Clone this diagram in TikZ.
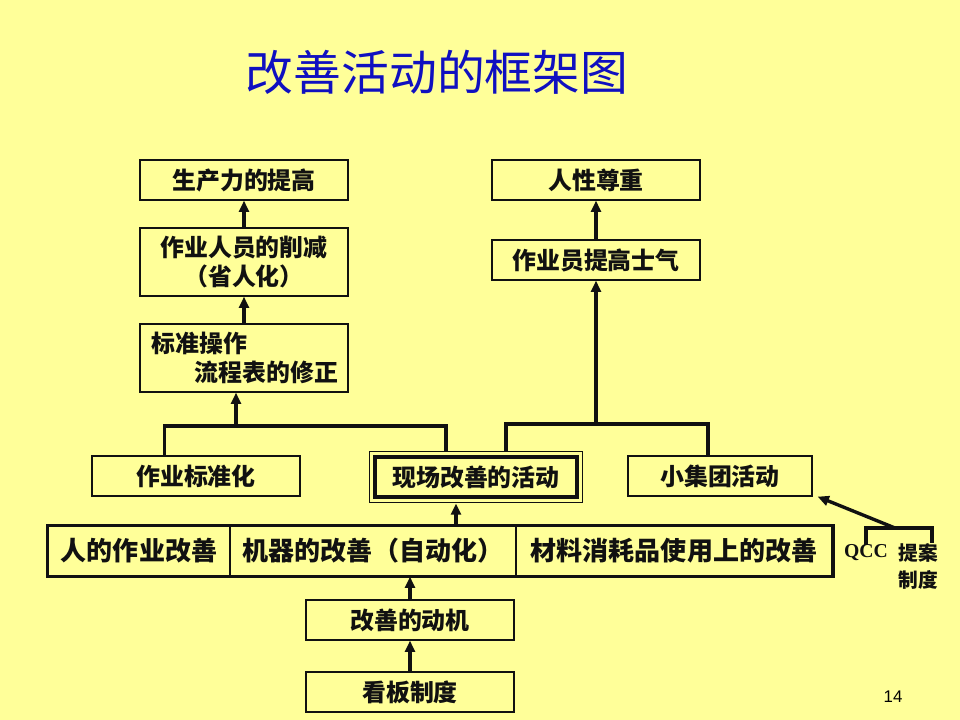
\documentclass[tikz,border=0pt]{standalone}
\usepackage{fontspec}
\usetikzlibrary{arrows.meta,positioning,fit}
\newfontfamily\cjk{Noto Sans CJK SC}
\newfontfamily\serifbold{Liberation Serif}
\newfontfamily\numfont{Liberation Sans}
\definecolor{slide}{HTML}{FFFF99}
\definecolor{heading}{HTML}{1010C0}
\definecolor{ink}{HTML}{111111}

\begin{document}
\begin{tikzpicture}[
  x=0.025cm, y=-0.025cm,
  box/.style={draw=ink, line width=0.9pt, minimum width=5.2cm, minimum height=1cm, inner sep=0pt,
    text=ink, font=\cjk\bfseries\fontsize{17}{20.6}\selectfont},
  tallbox/.style={box, minimum height=1.7cm},
  cell/.style={draw=ink, line width=0.9pt, minimum height=1.25cm, inner sep=0pt,
    text=ink, font=\cjk\bfseries\fontsize{18.5}{22}\selectfont},
  link/.style={draw=ink, line width=2.4pt},
  arr/.style={link, -{Triangle[length=8pt,width=7pt]}},
]

\fill[slide] (0,0) rectangle (960,720);

\node[font=\cjk\fontsize{34}{40}\selectfont, text=heading] (title) at (437,72) {改善活动的框架图};

% left column
\node[box] (prod) at (244,180) {生产力的提高};
\node[tallbox, align=center] (cut) at (244,262) {作业人员的削减\\（省人化）};
\node[tallbox, text width=4.6cm, align=left] (std) at (244,358) {标准操作\\\hspace*{1.075cm}流程表的修正};

% right column
\node[box] (respect) at (596,180) {人性尊重};
\node[box] (morale) at (596,260) {作业员提高士气};

% middle row
\node[box] (stdz) at (196,476) {作业标准化};
\node[box, minimum width=5.05cm, line width=2.6pt] (site) at (476,477) {现场改善的活动};
\node[draw=ink, line width=0.9pt, inner sep=0.1cm, fit=(site)] (siteframe) {};
\node[box, minimum width=4.6cm] (group) at (720,476) {小集团活动};

% bottom row
\node[cell, minimum width=4.55cm] (man) at (139,551) {人的作业改善};
\node[cell, minimum width=7.15cm] (machine) at (373,551) {机器的改善（自动化）};
\node[cell, minimum width=7.9cm] (material) at (674,551) {材料消耗品使用上的改善};
\draw[link, line width=2.6pt] (man.north west) rectangle (material.south east);

\node[box] (motive) at (410,620) {改善的动机};
\node[box] (kanban) at (410,692) {看板制度};

\node[font=\serifbold\bfseries\fontsize{14}{16}\selectfont, text=ink, inner sep=0pt] (qcc) at (866,553) {QCC};
\node[font=\cjk\bfseries\fontsize{14}{19.2}\selectfont, text=ink, inner sep=0pt, align=center] (prop) at (918,566) {提案\\制度};

\node[font=\numfont\fontsize{12}{14}\selectfont] (page) at (893,697) {14};

% connectors
\coordinate (jl) at (236,426);
\coordinate (jr) at (596,424);
\coordinate (rowtop) at (456,526);
\coordinate (qtop) at (895,528);

\draw[arr] (cut.north) -- (prod.south);
\draw[arr] (std.north) -- (cut.south);
\draw[arr] (morale.north) -- (respect.south);

\draw[link] ([xshift=1.825cm]stdz.north west) |- (jl) -| ([xshift=-0.75cm]siteframe.north);
\draw[link] ([xshift=0.75cm]siteframe.north) |- (jr) -| ([xshift=-0.3cm]group.north);
\draw[arr] (jl) -- (jl |- std.south);
\draw[arr] (jr) -- (morale.south);

\draw[arr] (rowtop) -- (rowtop |- siteframe.south);
\draw[arr] (motive.north) -- (motive.north |- machine.south);
\draw[arr] (kanban.north) -- (motive.south);

\draw[link] (qcc.north) |- (qtop) -| ([xshift=0.35cm]prop.north);
\draw[arr] (qtop) -- ([xshift=0.125cm]group.south east);

\end{tikzpicture}
\end{document}
